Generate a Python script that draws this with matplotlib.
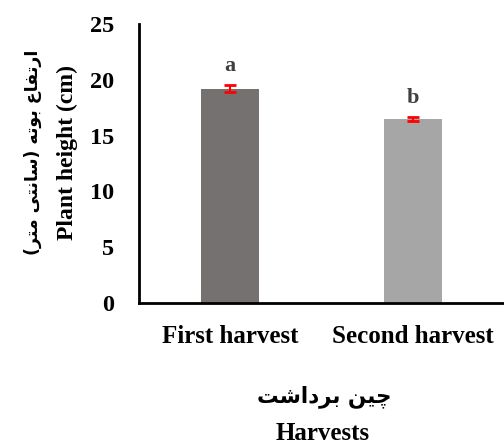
import matplotlib
matplotlib.use("Agg")
import matplotlib.pyplot as plt

categories = ["First harvest", "Second harvest"]
values = [19.2, 16.5]
errors = [0.3, 0.2]
letters = ["a", "b"]
bar_colors = ["#767171", "#A6A6A6"]

# Persian text in visual order with presentation forms
fa_xlabel = "\uFE96\uFEB7\uFE8D\uFEA9\uFEAE\uFE91 \uFEE6\uFBFF\uFB7C"
fa_ylabel = ("(" + "\uFEAE\uFE98\uFEE3" + " " + "\uFBFD\uFE98\uFEE7\uFE8E\uFEB3" + ")" + " "
             + "\uFEEA\uFE97\uFEEE\uFE91" + " " + "\uFEC9\uFE8E\uFED4\uFE97\uFEAD\uFE8D")

W, H = 504, 446
fig = plt.figure(figsize=(W / 100, H / 100), dpi=100)
ax = fig.add_axes([139 / W, 1 - 303 / H, (504 - 139) / W, (303 - 24) / H])

serif = ["Liberation Serif", "DejaVu Serif"]
x = range(len(categories))
ax.bar(x, values, width=0.32, color=bar_colors, zorder=2)
ax.errorbar(x, values, yerr=errors, fmt="none", ecolor="red", elinewidth=1.5,
            capsize=4, capthick=2, zorder=3)
for xi, v, e, l in zip(x, values, errors, letters):
    ax.text(xi, v + e + 1.7, l, ha="center", va="center", family=serif,
            fontweight="bold", fontsize=16, color="#404040")

ax.set_xlim(-0.5, 1.5)
ax.set_ylim(0, 25)
ax.set_yticks([0, 5, 10, 15, 20, 25])
ax.set_xticks(list(x))
ax.set_xticklabels(categories)
for s in ["top", "right"]:
    ax.spines[s].set_visible(False)
for s in ["left", "bottom"]:
    ax.spines[s].set_linewidth(2)
ax.tick_params(axis="both", length=0)
ax.tick_params(axis="y", pad=18, labelsize=17.5)
ax.tick_params(axis="x", pad=16, labelsize=18)
for lab in ax.get_xticklabels() + ax.get_yticklabels():
    lab.set_family(serif)
    lab.set_fontweight("bold")

fig.text(67 / W, 1 - 153 / H, "Plant height (cm)", rotation=90, ha="center", va="center",
         family=serif, fontweight="bold", fontsize=17)
fig.text(33 / W, 1 - 152 / H, fa_ylabel, rotation=90, ha="center", va="center",
         family=["DejaVu Sans"], fontweight="bold", fontsize=12.5)
fig.text(324 / W, 1 - 397 / H, fa_xlabel, ha="center", va="center",
         family=["DejaVu Sans"], fontweight="bold", fontsize=15.5)
fig.text(323 / W, 1 - 434 / H, "Harvests", ha="center", va="center",
         family=serif, fontweight="bold", fontsize=18)

fig.savefig("out.png", dpi=100)
